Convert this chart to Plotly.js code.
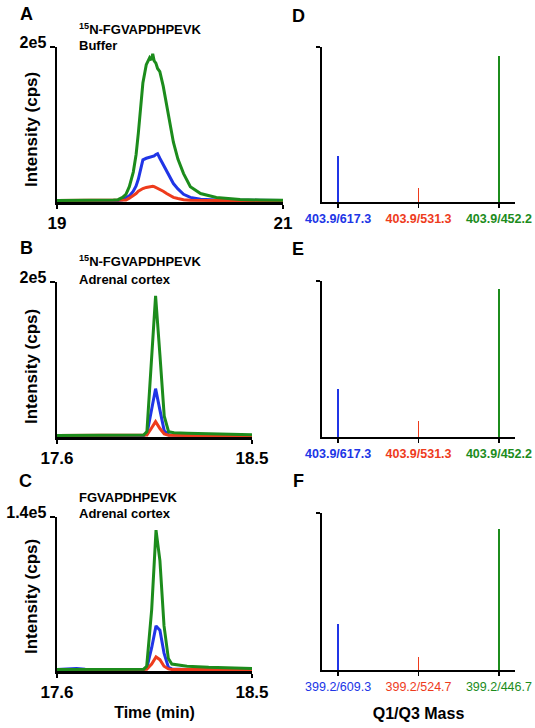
<!DOCTYPE html>
<html><head><meta charset="utf-8">
<script src="https://cdn.plot.ly/plotly-3.0.1.min.js"></script>
<style>html,body{margin:0;padding:0;background:#fff}#chart{width:535px;height:728px}</style>
</head><body><div id="chart"></div>
<script>
// ---------- data ----------
const timeA  = [19.00,19.20,19.40,19.50,19.54,19.58,19.61,19.64,19.675,19.70,19.72,19.74,19.76,19.79,19.82,19.835,19.847,19.86,19.875,19.89,19.91,19.94,19.97,20.00,20.03,20.07,20.12,20.18,20.27,20.41,20.62,20.80,21.00];
const greenA = [0,0,0,500,1000,4000,8000,18000,37000,60000,88000,120000,153000,177000,186000,183000,191000,182000,179000,172000,168000,149000,123000,97000,76000,54000,35000,18000,9000,4000,1300,600,300];
const blueA  = [0,0,0,0,0,1000,3000,6000,12000,19000,28000,40000,53000,55000,56000,56500,57000,58000,60000,61000,55000,47000,39000,29000,22000,15000,8000,4000,1500,500,0,0,0];
const redA   = [0,0,0,0,0,0,500,3000,6000,9000,12000,14000,15500,17000,18000,18300,18500,18000,17000,16000,14500,12000,9000,6000,4000,2500,1000,300,0,0,0,0,0];

const timeB  = [17.60,17.80,17.95,18.00,18.015,18.035,18.055,18.075,18.095,18.115,18.14,18.20,18.30,18.40,18.50];
const greenB = [0,0,0,500,5000,95000,182000,105000,25000,5000,3500,3000,2000,1500,1000];
const blueB  = [0,0,0,0,2000,32000,61000,33000,6000,1000,500,0,0,0,0];
const redB   = [0,0,0,0,500,9000,18000,9000,2000,300,0,0,0,0,0];

const timeC  = [17.60,17.65,17.69,17.73,17.80,17.95,18.00,18.014,18.037,18.057,18.075,18.094,18.114,18.13,18.20,18.30,18.40,18.50];
const greenC = [0,0,500,0,0,0,300,3000,55000,128000,100000,40000,10000,5000,3000,2000,1500,1000];
const blueC  = [0,300,1000,300,0,0,0,1000,20000,40000,36000,15000,2000,500,0,0,0,0];
const redC   = [0,0,0,0,0,0,0,200,5000,11500,9000,3000,500,0,0,0,0,0];

const transD = ["403.9/617.3","403.9/531.3","403.9/452.2"];
const relD   = [0.30,0.09,0.94];
const transE = ["403.9/617.3","403.9/531.3","403.9/452.2"];
const relE   = [0.31,0.10,0.95];
const transF = ["399.2/609.3","399.2/524.7","399.2/446.7"];
const relF   = [0.29,0.08,0.90];

const panelTicksA = {vals:[19,21], text:["19","21"], ymax:200000, ylabel:"2e5"};
const panelTicksB = {vals:[17.6,18.5], text:["17.6","18.5"], ymax:200000, ylabel:"2e5"};
const panelTicksC = {vals:[17.6,18.5], text:["17.6","18.5"], ymax:140000, ylabel:"1.4e5"};

// ---------- style ----------
const BLUE="#2035e6", RED="#ee3b1c", GREEN="#1c8c1c";
const FONT="Liberation Sans, Arial, sans-serif";
const W=535, H=728;
const px=x=>x/W, py=y=>1-y/H;

const traces=[];
function chrom(t, ys, ax, col){
  traces.push({type:"scatter",mode:"lines",x:t,y:ys,xaxis:"x"+ax,yaxis:"y"+ax,
    line:{color:col,width:3},hoverinfo:"skip"});
}
chrom(timeA,blueA,"",BLUE); chrom(timeA,redA,"",RED); chrom(timeA,greenA,"",GREEN);
chrom(timeB,blueB,"2",BLUE); chrom(timeB,redB,"2",RED); chrom(timeB,greenB,"2",GREEN);
chrom(timeC,blueC,"3",BLUE); chrom(timeC,redC,"3",RED); chrom(timeC,greenC,"3",GREEN);

const cols=[BLUE,RED,GREEN];
function bars(cats, vals, ax){
  traces.push({type:"bar",x:cats,y:vals,xaxis:"x"+ax,yaxis:"y"+ax,width:0.024,
    marker:{color:cols,line:{width:0}},hoverinfo:"skip"});
}
bars(transD,relD,"4"); bars(transE,relE,"5"); bars(transF,relF,"6");

function chromX(dom, tk, anc){
  return {domain:dom, anchor:anc, range:[tk.vals[0],tk.vals[1]], tickvals:tk.vals, ticktext:tk.text,
    showgrid:false, zeroline:false, showline:true, linecolor:"#000", linewidth:2.5,
    ticks:"outside", ticklen:4, tickwidth:2, tickcolor:"#000", layer:"below traces",
    tickfont:{family:FONT,size:17,color:"#000",weight:"bold"}, fixedrange:true};
}
function chromY(dom, tk, anc){
  return {domain:dom, anchor:anc, range:[-2000*tk.ymax/200000, tk.ymax], tickvals:[tk.ymax], ticktext:[tk.ylabel],
    showgrid:false, zeroline:false, showline:true, linecolor:"#000", linewidth:2.5,
    ticks:"outside", ticklen:5, tickwidth:2, tickcolor:"#000", layer:"below traces",
    ticklabelshift:-5,
    tickfont:{family:FONT,size:16,color:"#000",weight:"bold"}, fixedrange:true};
}
function barX(dom, cats, bold, anc){
  const tt=cats.map((c,i)=>`<span style="color:${cols[i]}">${bold?"<b>"+c+"</b>":c}</span>`);
  return {domain:dom, anchor:anc, type:"category", range:[-0.2,2.2], tickvals:cats, ticktext:tt,
    showgrid:false, zeroline:false, showline:true, linecolor:"#000", linewidth:2,
    ticks:"outside", ticklen:4, tickwidth:1.5, tickcolor:"#000",
    tickfont:{family:FONT,size:12.5,weight:bold?"bold":"normal"}, fixedrange:true};
}
function barY(dom, anc){
  return {domain:dom, anchor:anc, range:[0,1], tickvals:[1], showticklabels:false,
    showgrid:false, zeroline:false, showline:true, linecolor:"#000", linewidth:2,
    ticks:"outside", ticklen:4, tickwidth:2, tickcolor:"#000", fixedrange:true};
}

const xL=[px(57),px(283)], xLB=[px(57),px(252)], xR=[px(322),px(515)];
const yA=[py(202),py(47)], yB=[py(437),py(282)], yC=[py(671),py(517)];
const yD=[py(202),py(47)], yE=[py(437),py(281)], yF=[py(670),py(513)];

const axTitle=(t,s)=>({text:t,standoff:s,font:{family:FONT,size:16,weight:"bold",color:"#000"}});
const layout={
  width:W,height:H,margin:{l:0,r:0,t:0,b:0},paper_bgcolor:"#fff",plot_bgcolor:"rgba(0,0,0,0)",
  showlegend:false,bargap:0,
  font:{family:FONT,color:"#000"},
  xaxis:chromX(xL,panelTicksA,"y"), yaxis:chromY(yA,panelTicksA,"x"),
  xaxis2:chromX(xLB,panelTicksB,"y2"), yaxis2:chromY(yB,panelTicksB,"x2"),
  xaxis3:Object.assign(chromX(xLB,panelTicksC,"y3"),{title:axTitle("Time (min)",6)}),
  yaxis3:chromY(yC,panelTicksC,"x3"),
  xaxis4:barX(xR,transD,true,"y4"), yaxis4:barY(yD,"x4"),
  xaxis5:barX(xR,transE,true,"y5"), yaxis5:barY(yE,"x5"),
  xaxis6:Object.assign(barX(xR,transF,false,"y6"),{title:axTitle("Q1/Q3 Mass",15)}),
  yaxis6:barY(yF,"x6"),
  annotations:[]
};
const ann=layout.annotations;
function label(t,x,y,size,opt){
  ann.push(Object.assign({text:t,x:px(x),y:py(y),xref:"paper",yref:"paper",showarrow:false,
    xanchor:"center",yanchor:"middle",font:{family:FONT,size:size,color:"#000",weight:"bold"}},opt||{}));
}
[["A",26,14],["B",26,248],["C",25,481],["D",298,16],["E",298,249],["F",298,481]].forEach(p=>label(p[0],p[1],p[2],18));
[["<sup>15</sup>N-FGVAPDHPEVK",29],["Buffer",45],["<sup>15</sup>N-FGVAPDHPEVK",261],["Adrenal cortex",279],["FGVAPDHPEVK",497],["Adrenal cortex",513]]
  .forEach(p=>label(p[0],77,p[1],13,{xanchor:"left"}));
[130,367,597].forEach(y=>label("Intensity (cps)",31,y,17,{textangle:-90}));

Plotly.newPlot("chart",traces,layout,{staticPlot:true,displayModeBar:false});
</script></body></html>
